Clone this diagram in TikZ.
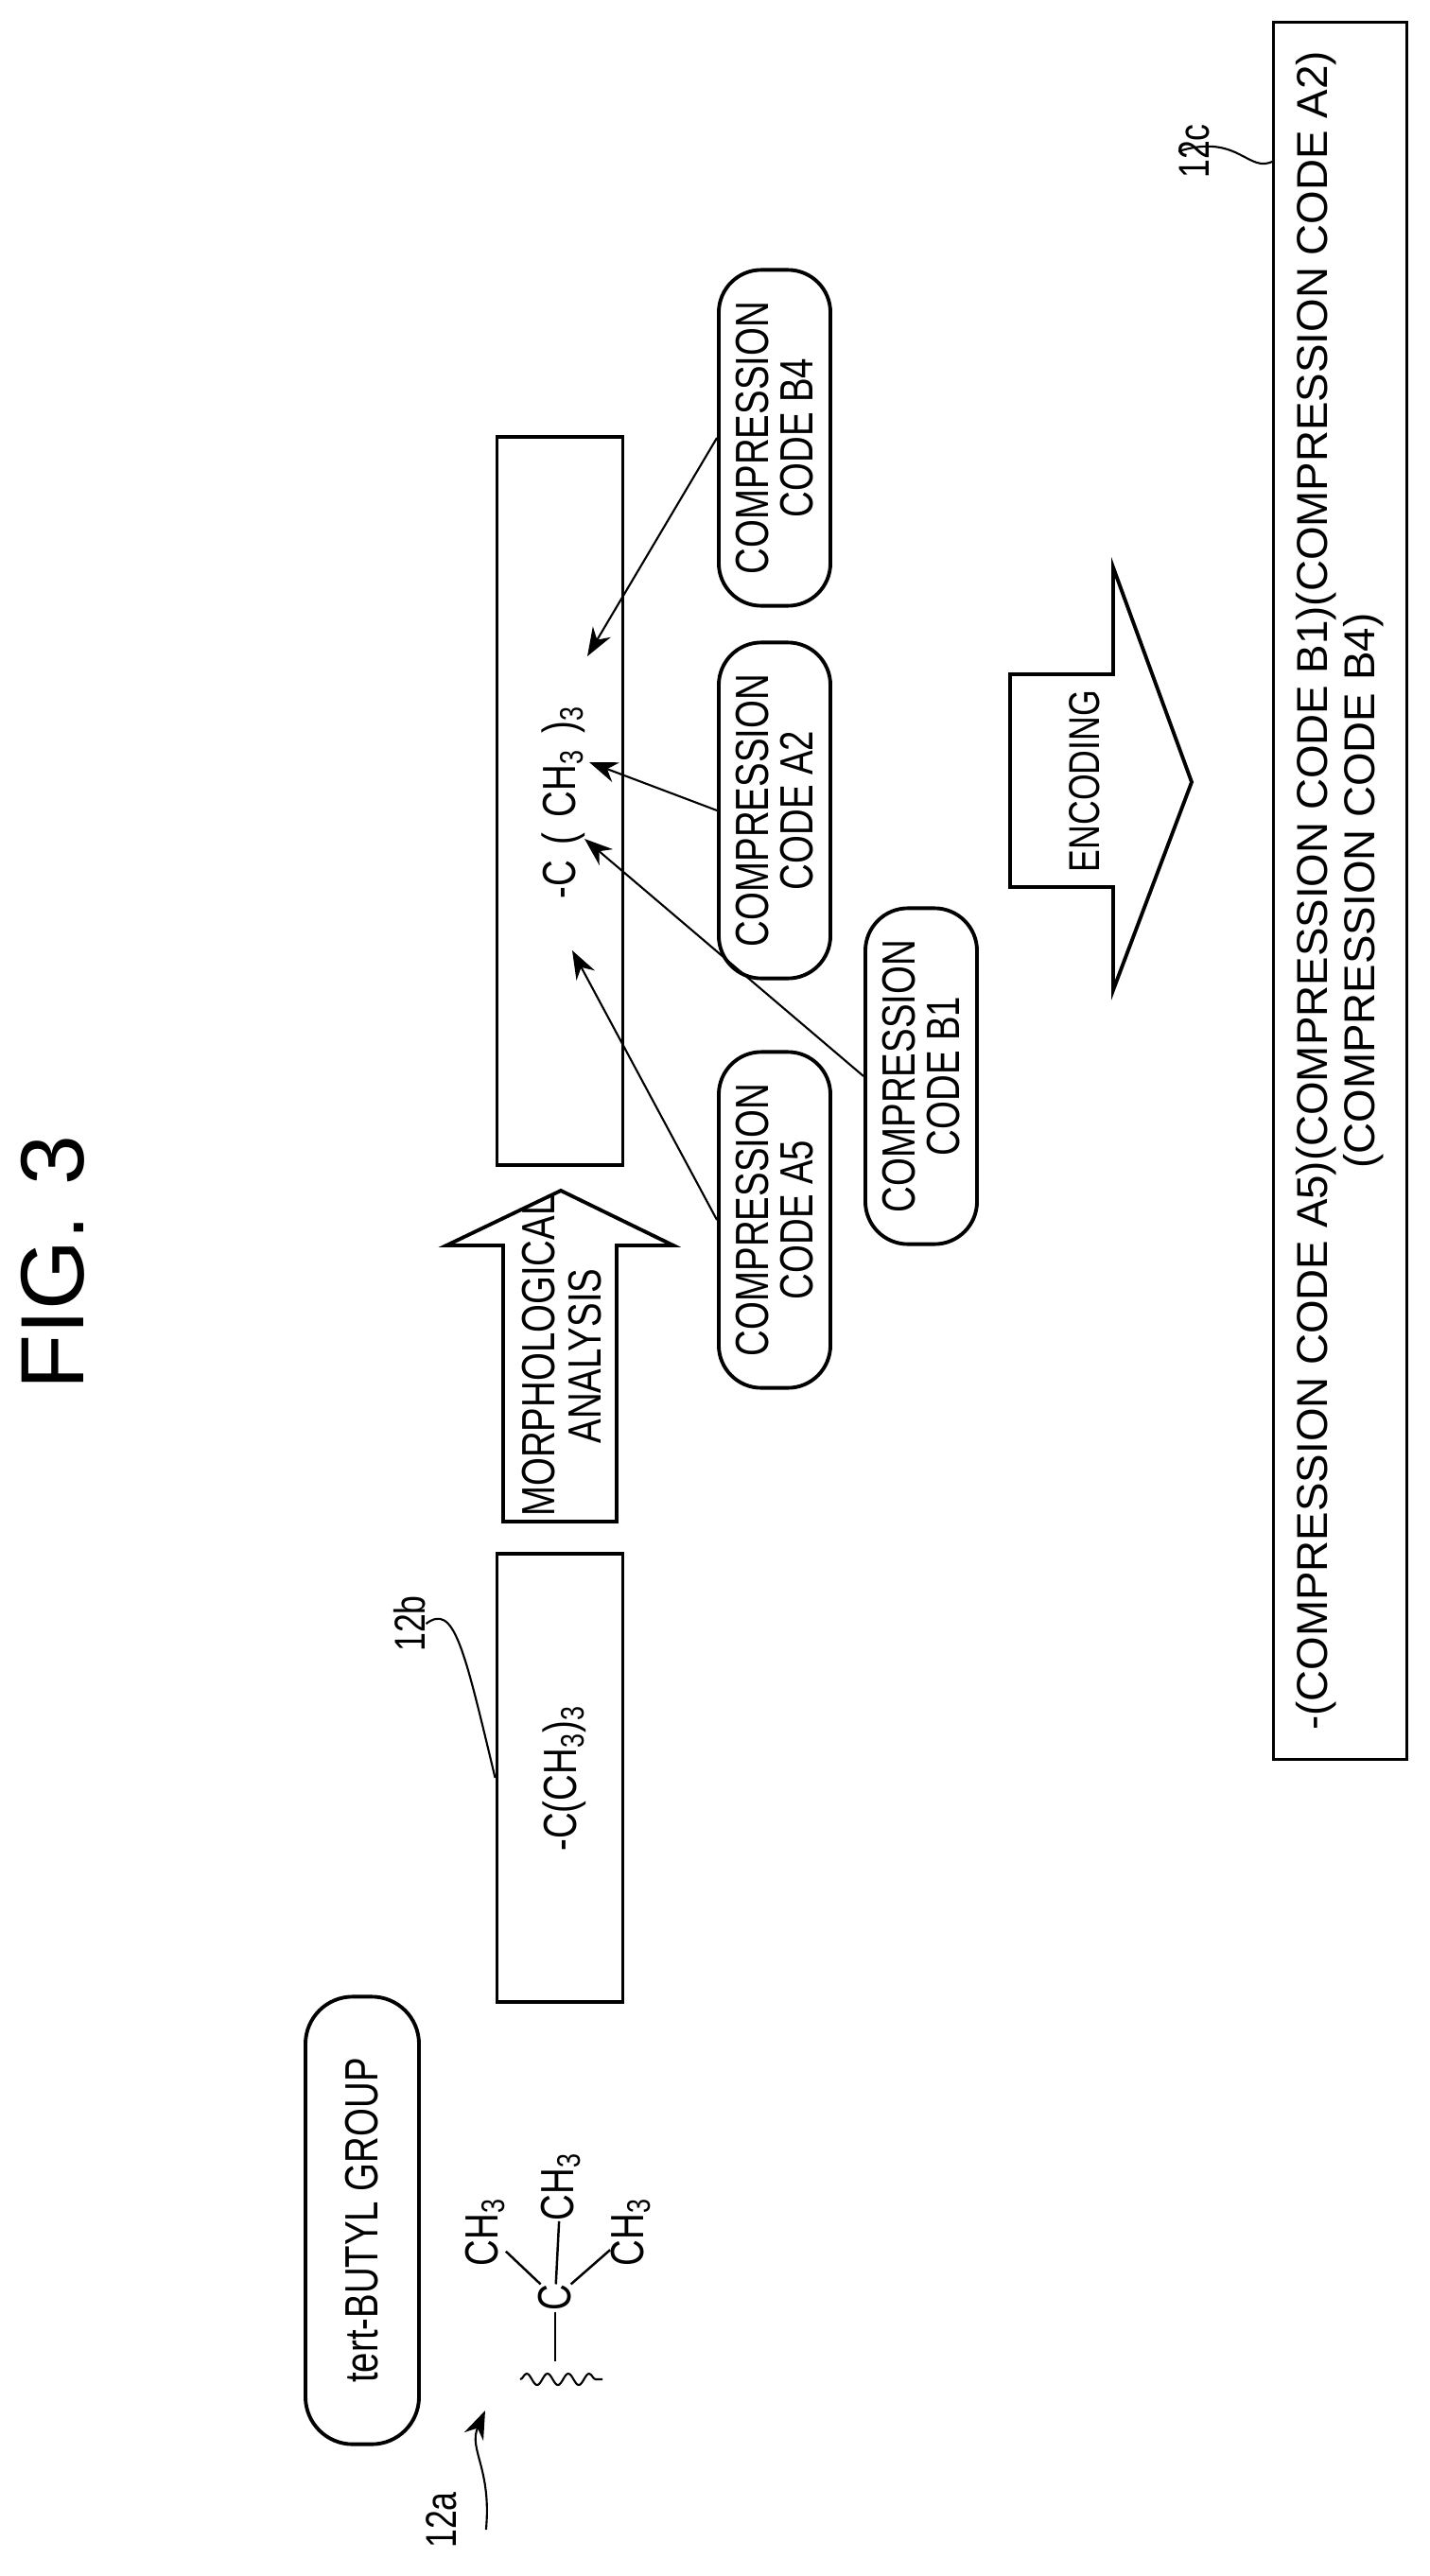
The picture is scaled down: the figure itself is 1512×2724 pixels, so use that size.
\documentclass[tikz,border=0pt]{standalone}
\usepackage{fontspec}
\setmainfont{Liberation Sans}
\newfontfamily\narrowfont{Liberation Sans}[FakeStretch=0.78]
\usetikzlibrary{arrows.meta,decorations.pathmorphing}
\tikzset{
  pline/.style={line width=1.1pt},
  strbox/.style={draw, pline, rectangle, rotate=90, inner sep=0pt},
  cbox/.style={draw, pline, rectangle, rounded corners=0.45cm, rotate=90,
    minimum width=3.55cm, minimum height=1.18cm, align=center,
    font=\narrowfont\fontsize{14}{13.5}\selectfont},
  txt/.style={rotate=90, inner sep=0pt, font=\narrowfont\fontsize{14}{16}\selectfont},
  lbl/.style={rotate=90, inner sep=0pt, font=\narrowfont\fontsize{13}{15}\selectfont},
  ptr/.style={line width=0.6pt, -{Stealth[length=0.3cm, width=0.22cm]}},
}
\begin{document}
\begin{tikzpicture}[x=0.01cm, y=-0.01cm]
    \useasboundingbox (0,0) rectangle (1512,2724);
    \node[rotate=90, font=\fontsize{27}{30}\selectfont] (fig) at (56,1335) {FIG.\,\,3};
    % 12a: tert-butyl group
    \node[draw, pline, rounded corners=0.5cm, rotate=90, minimum width=4.73cm,
      minimum height=1.2cm, font=\narrowfont\fontsize{14}{16}\selectfont] (tbu) at (383,2348) {tert-BUTYL GROUP};
    \node[txt] (cc) at (587,2430) {C};
    \node[txt] (me1) at (593,2312) {CH\textsubscript{3}};
    \node[txt] (me2) at (513,2360) {CH\textsubscript{3}};
    \node[txt] (me3) at (667,2360) {CH\textsubscript{3}};
    \coordinate (wl) at (550,2516);
    \coordinate (wr) at (637,2516);
    \coordinate (wm) at (587,2497);
    \draw[line width=0.7pt] (cc) -- (me1);
    \draw[line width=0.7pt] (cc) -- (me2);
    \draw[line width=0.7pt] (cc) -- (me3);
    \draw[line width=0.7pt] (cc) -- (wm);
    \draw[line width=0.6pt, decorate, decoration={snake, amplitude=0.06cm, segment length=0.22cm}] (wl) -- (wr);
    \node[lbl] (l12a) at (467,2665) {12a};
    \coordinate (a12a) at (513,2549);
    \draw[ptr] (l12a.south) ++(0.3cm,-0.1cm) coordinate (s12a) .. controls (520,2610) and (495,2590) .. (a12a);
    % 12b
    \node[strbox, minimum width=4.74cm, minimum height=1.33cm] (b12b) at (592,1880) {};
    \node[txt] (t12b) at (597,1880) {-C(CH\textsubscript{3})\textsubscript{3}};
    \node[lbl] (l12b) at (433,1717) {12b};
    \draw[line width=0.6pt] (l12b.south) .. controls (480,1695) and (490,1740) .. (b12b.north -| b12b.north west);
    % morphological analysis
    \draw[pline] (532,1609) -- (532,1317) -- (472,1317) -- (593,1259) -- (712,1317)
      -- (652,1317) -- (652,1609) -- cycle;
    \node[txt, align=center, font=\narrowfont\fontsize{14}{14}\selectfont] (morph) at (594,1434) {MORPHOLOGICAL\\ANALYSIS};
    % analysed string
    \node[strbox, minimum width=7.69cm, minimum height=1.33cm] (b12m) at (592,847) {};
    \node[txt] (t12m) at (596,848) {-C\,\,(\,\,CH\textsubscript{3}\,\,)\textsubscript{3}};
    \node[cbox] (a5) at (819,1290) {COMPRESSION\\CODE A5};
    \node[cbox] (b1) at (974,1138) {COMPRESSION\\CODE B1};
    \node[cbox] (a2) at (819,857) {COMPRESSION\\CODE A2};
    \node[cbox] (b4) at (819,463) {COMPRESSION\\CODE B4};
    \coordinate (ta5) at (605,1005);
    \coordinate (tb1) at (618,887);
    \coordinate (ta2) at (623,806);
    \coordinate (tb4) at (621,694);
    \draw[ptr] (a5.north) -- (ta5);
    \draw[ptr] (b1.north) -- (tb1);
    \draw[ptr] (a2.north) -- (ta2);
    \draw[ptr] (b4.north) -- (tb4);
    % encoding
    \draw[pline] (1068,938) -- (1068,713) -- (1177,713) -- (1177,600) -- (1260,827)
      -- (1177,1047) -- (1177,938) -- cycle;
    \node[txt, font=\narrowfont\fontsize{13}{15}\selectfont] (enc) at (1147,826) {ENCODING};
    % 12c
    \node[strbox, minimum width=18.36cm, minimum height=1.41cm, align=center,
      font=\fontsize{13}{14.2}\selectfont] (b12c) at (1417,942)
      {-(COMPRESSION CODE A5)(COMPRESSION CODE B1)(COMPRESSION CODE A2)\\(COMPRESSION CODE B4)};
    \node[lbl] (l12c) at (1263,160) {12c};
    \draw[line width=0.6pt] (l12c.north) .. controls (1310,140) and (1320,185) .. (1347,170);
\end{tikzpicture}
\end{document}
